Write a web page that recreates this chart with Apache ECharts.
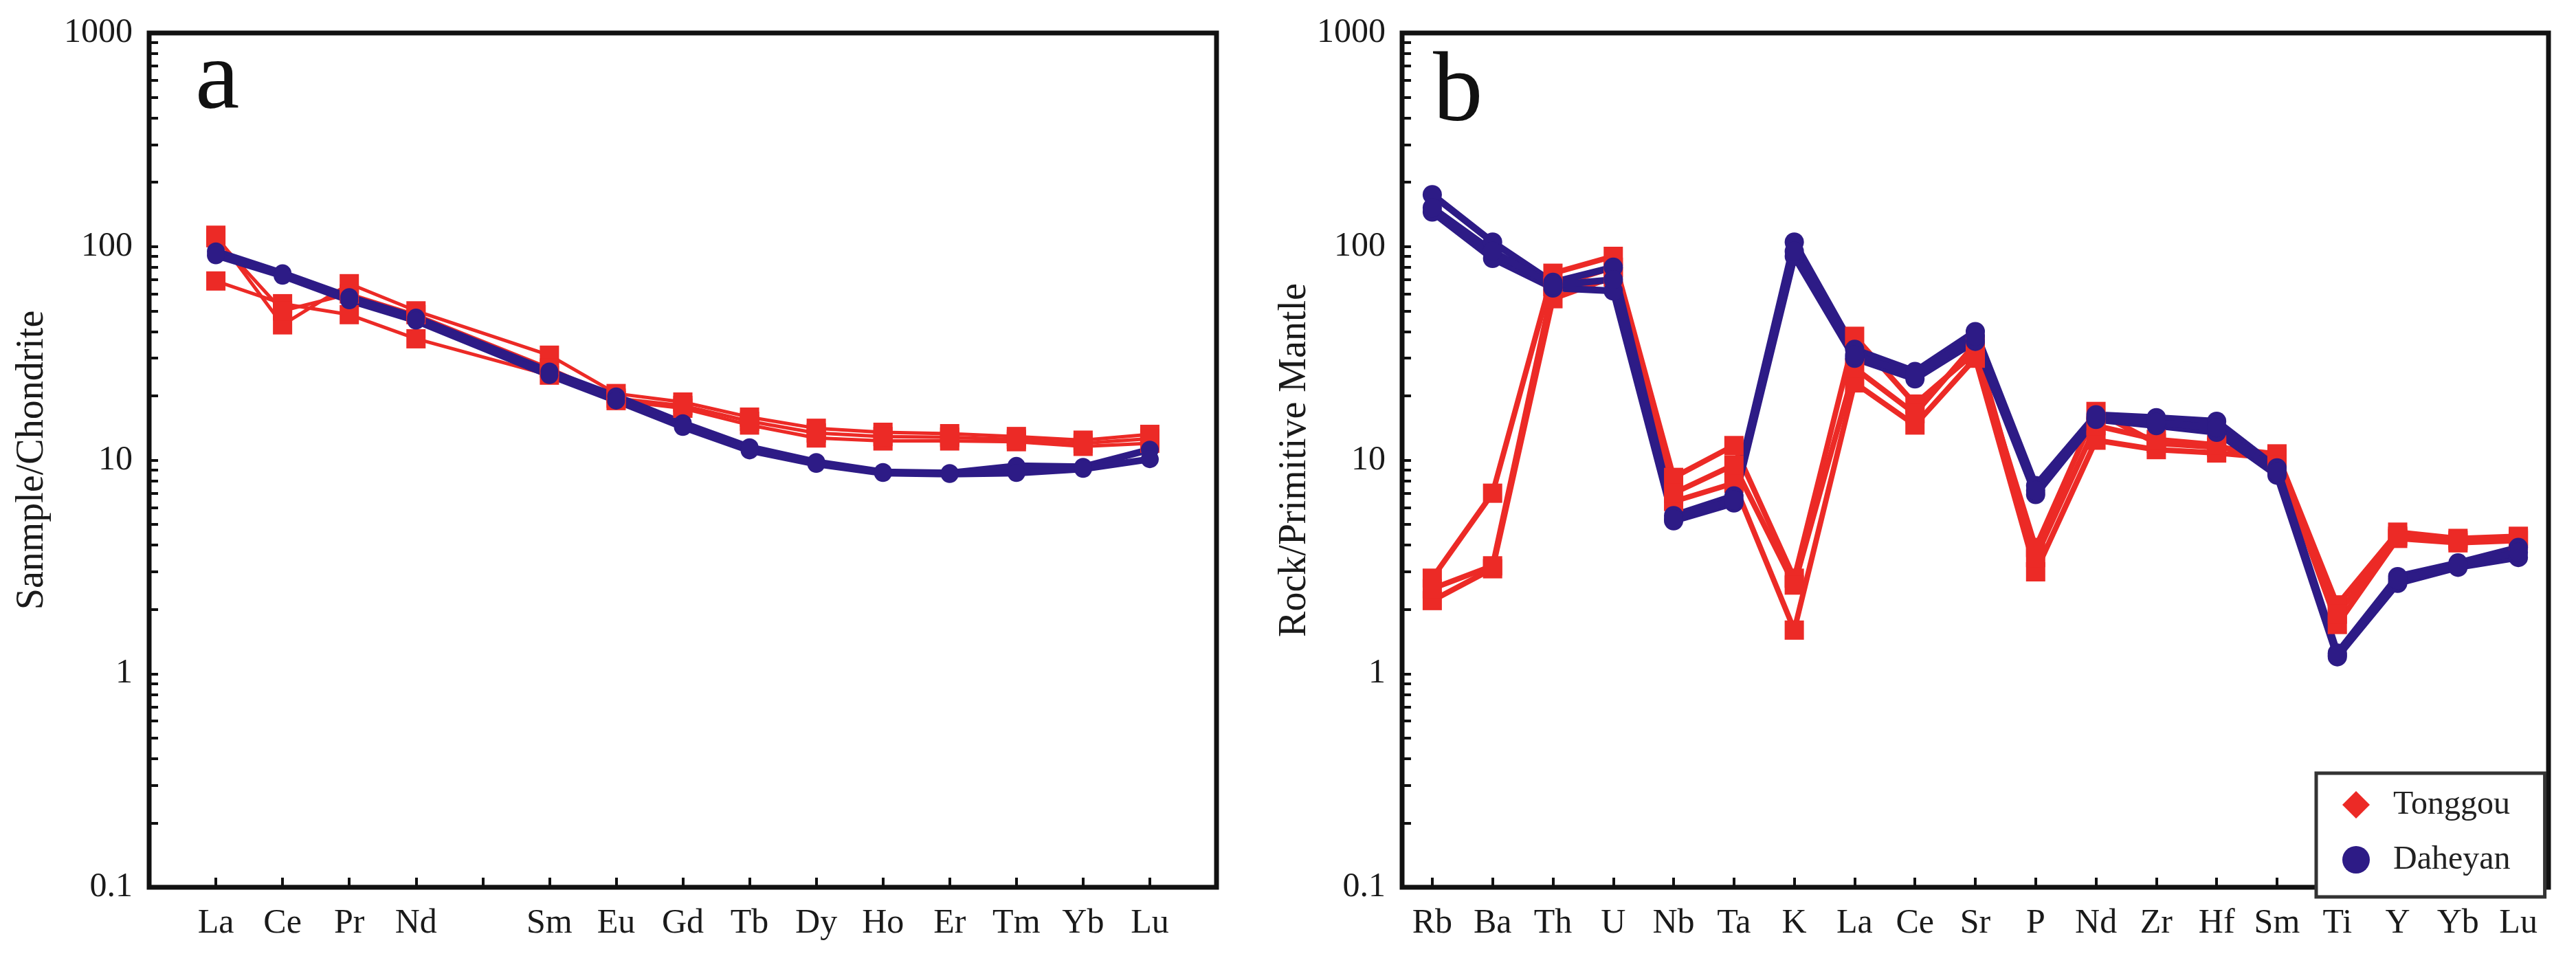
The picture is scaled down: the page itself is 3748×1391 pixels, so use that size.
<!DOCTYPE html>
<html>
<head>
<meta charset="utf-8">
<title>REE / spider diagrams</title>
<script src="https://cdn.jsdelivr.net/npm/echarts@6/dist/echarts.min.js"></script>
<style>
  html, body { margin: 0; padding: 0; background: #fff; }
  #main { width: 3748px; height: 1391px; }
</style>
</head>
<body>
<div id="main"></div>
<script>
/* 数据 */
var elementsA = ['La', 'Ce', 'Pr', 'Nd', '', 'Sm', 'Eu', 'Gd', 'Tb', 'Dy', 'Ho', 'Er', 'Tm', 'Yb', 'Lu'];
var elementsB = ['Rb', 'Ba', 'Th', 'U', 'Nb', 'Ta', 'K', 'La', 'Ce', 'Sr', 'P', 'Nd', 'Zr', 'Hf', 'Sm', 'Ti', 'Y', 'Yb', 'Lu'];

// 球粒陨石标准化 (a)
var tonggouA1 = [113, 43, 67, 50, null, 31, 20.5, 18.7, 15.9, 14.1, 13.5, 13.3, 12.9, 12.4, 13.2];
var tonggouA2 = [69, 54, 48, 37, null, 25, 19, 17.5, 14.6, 12.7, 12.3, 12.3, 12.2, 11.6, 12.0];
var tonggouA3 = [110, 50, 60, 48, null, 27, 19.5, 18, 15.2, 13.4, 12.9, 12.8, 12.5, 12.0, 12.6];
var daheyanA1 = [95, 75, 58, 46.5, null, 26, 19.9, 14.9, 11.5, 9.8, 8.8, 8.7, 9.4, 9.3, 11.2];
var daheyanA2 = [91, 73, 56, 45, null, 25, 19, 14.3, 11.1, 9.6, 8.7, 8.6, 8.7, 9.1, 10.1];

// 原始地幔标准化 (b)
var tonggouB1 = [2.8, 7.0, 75, 90, 8.3, 11.7, 2.8, 38, 18.3, 32, 3.9, 16.9, 12, 11.5, 10.7, 2.1, 4.6, 4.3, 4.4];
var tonggouB2 = [2.2, 3.1, 57, 72, 6.4, 7.8, 1.6, 23, 14.6, 30, 3.0, 12.4, 11.2, 10.8, 10.2, 1.7, 4.3, 4.1, 4.2];
var tonggouB3 = [2.5, 3.2, 65, 80, 7.0, 9.5, 2.6, 27, 16.5, 35, 3.5, 14.5, 12.5, 11.8, 9.5, 1.9, 4.4, 4.2, 4.3];
var daheyanB1 = [175, 105, 68, 80, 5.5, 6.8, 105, 33, 26, 40, 7.6, 16.3, 15.8, 15.2, 9.2, 1.25, 2.85, 3.3, 3.9];
var daheyanB2 = [145, 88, 64, 62, 5.2, 6.3, 90, 30, 24, 36, 6.9, 15.5, 14.5, 13.5, 8.5, 1.2, 2.65, 3.15, 3.5];
var daheyanB3 = [152, 95, 66, 70, 5.3, 6.5, 95, 31, 25, 38, 7.2, 15.8, 15, 14.2, 8.8, 1.22, 2.75, 3.2, 3.7];

var yTickLabels = ['0.1', '1', '10', '100', '1000'];

var RED = '#ec2a26';
var BLUE = '#2d1b86';
var INK = '#1a1a1a';
var FONT = 'Liberation Serif';

// 对数刻度的小刻度位置（log10）
var logTicks = [];
for (var k = -1; k < 3; k++) {
  for (var d = 1; d < 10; d++) {
    logTicks.push(k + Math.log10(d));
  }
}
logTicks.push(3);

var padA = [''].concat(elementsA).concat(['']);
function padded(arr) {
  return [null].concat(arr).concat([null]);
}

var myChart = echarts.init(document.getElementById('main'));

var gridA = {left: 217, top: 48, width: 1553, height: 1243};
var gridB = {left: 2040, top: 48, width: 1668, height: 1243};

function frameGrid(g) {
  return {left: g.left, top: g.top, width: g.width, height: g.height,
    show: true, borderColor: '#111', borderWidth: 7, backgroundColor: 'transparent'};
}
function plainGrid(g) {
  return {left: g.left, top: g.top, width: g.width, height: g.height, show: false};
}

var xTick = {show: true, inside: true, length: 14, lineStyle: {color: '#111', width: 4}};

function xLabel() {
  return {show: true, interval: 0, fontFamily: FONT, fontSize: 50, color: INK, margin: 28};
}

function logY(grid, name, gap) {
  return {
    type: 'log', logBase: 10, min: 0.1, max: 1000, gridIndex: grid,
    axisLine: {show: false},
    axisTick: {show: false},
    splitLine: {show: false},
    axisLabel: {
      fontFamily: FONT, fontSize: 50, color: INK, margin: 24,
      formatter: function (v) {
        var e = Math.round(Math.log10(v));
        return yTickLabels[e + 1];
      }
    },
    name: name, nameLocation: 'middle', nameGap: gap,
    nameTextStyle: {fontFamily: FONT, fontSize: 56, color: INK}
  };
}

function tickY(grid) {
  return {
    type: 'value', min: -1, max: 3, gridIndex: grid,
    axisLine: {show: false},
    axisLabel: {show: false},
    splitLine: {show: false},
    axisTick: {show: true, inside: true, length: 13, lineStyle: {color: '#111', width: 4}, customValues: logTicks}
  };
}

function lineSeries(name, xi, yi, data, color, symbol, size, width) {
  return {
    name: name, type: 'line', xAxisIndex: xi, yAxisIndex: yi,
    data: data, connectNulls: true,
    symbol: symbol, symbolSize: size,
    lineStyle: {color: color, width: width},
    itemStyle: {color: color},
    emphasis: {disabled: true},
    silent: true
  };
}

option = {
  animation: false,
  backgroundColor: '#fff',
  textStyle: {fontFamily: FONT},
  grid: [frameGrid(gridA), frameGrid(gridB), plainGrid(gridA), plainGrid(gridB)],
  xAxis: [
    {type: 'category', gridIndex: 0, data: padA, boundaryGap: false,
      axisLine: {show: false}, axisTick: xTick, axisLabel: xLabel(), splitLine: {show: false}},
    {type: 'category', gridIndex: 1, data: elementsB, boundaryGap: true,
      axisLine: {show: false}, axisTick: Object.assign({alignWithLabel: true, interval: 0}, xTick),
      axisLabel: xLabel(), splitLine: {show: false}},
    {type: 'value', gridIndex: 2, show: false, min: 0, max: 1},
    {type: 'value', gridIndex: 3, show: false, min: 0, max: 1}
  ],
  yAxis: [
    logY(0, 'Sanmple/Chondrite', 142),
    logY(1, 'Rock/Primitive Mantle', 121),
    tickY(2),
    tickY(3)
  ],
  legend: {
    orient: 'vertical',
    left: 3370, top: 1125,
    padding: [22, 50, 30, 38],
    itemWidth: 40, itemHeight: 40, itemGap: 32,
    borderColor: '#333', borderWidth: 5, borderRadius: 0,
    backgroundColor: '#fff',
    selectedMode: false,
    textStyle: {fontFamily: FONT, fontSize: 48, color: '#222', padding: [0, 0, 0, 29]},
    data: [{name: 'Tonggou', icon: 'diamond'}, {name: 'Daheyan', icon: 'circle'}]
  },
  graphic: [
    {type: 'text', left: 284, top: 46, style: {text: 'a', font: '145px "Liberation Serif"', fill: '#111'}},
    {type: 'text', left: 2085, top: 64, style: {text: 'b', font: '145px "Liberation Serif"', fill: '#111'}}
  ],
  series: [
    lineSeries('Tonggou', 0, 0, padded(tonggouA1), RED, 'rect', 28, 5),
    lineSeries('Tonggou', 0, 0, padded(tonggouA2), RED, 'rect', 28, 5),
    lineSeries('Tonggou', 0, 0, padded(tonggouA3), RED, 'rect', 28, 5),
    lineSeries('Daheyan', 0, 0, padded(daheyanA1), BLUE, 'circle', 26, 10),
    lineSeries('Daheyan', 0, 0, padded(daheyanA2), BLUE, 'circle', 26, 10),
    lineSeries('Tonggou', 1, 1, tonggouB1, RED, 'rect', 28, 8),
    lineSeries('Tonggou', 1, 1, tonggouB2, RED, 'rect', 28, 8),
    lineSeries('Tonggou', 1, 1, tonggouB3, RED, 'rect', 28, 8),
    lineSeries('Daheyan', 1, 1, daheyanB1, BLUE, 'circle', 28, 10),
    lineSeries('Daheyan', 1, 1, daheyanB2, BLUE, 'circle', 28, 10),
    lineSeries('Daheyan', 1, 1, daheyanB3, BLUE, 'circle', 28, 10)
  ]
};
myChart.setOption(option);

/* 字体兜底：fontFamily 没生效的文字，改成衬线体 */
function serifFix() {
  var zr = myChart.getZr();
  var changed = false;
  zr.storage.getDisplayList(true).forEach(function (el) {
    var st = el.style;
    if (st && st.text != null && typeof st.font === 'string' && st.font.indexOf('sans-serif') >= 0) {
      st.font = st.font.replace('sans-serif', '"Liberation Serif", serif');
      el.markRedraw();
      changed = true;
    }
  });
  if (changed) {
    zr.refreshImmediately();
  }
}
serifFix();
setTimeout(serifFix, 0);
</script>
</body>
</html>
